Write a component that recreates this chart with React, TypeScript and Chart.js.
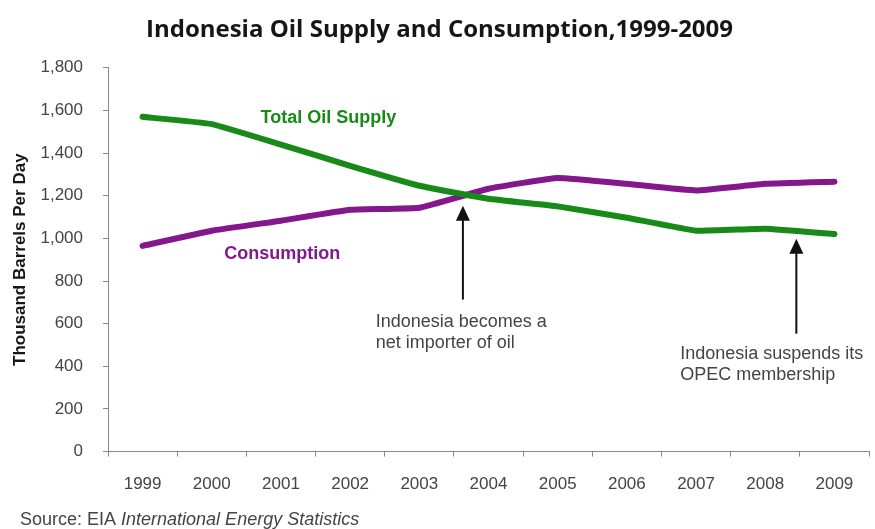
import React, { useEffect, useRef } from "react";
import { Chart, registerables } from "chart.js";

Chart.register(...registerables);

const years = ["1999", "2000", "2001", "2002", "2003", "2004", "2005", "2006", "2007", "2008", "2009"];
const totalOilSupply = [1570, 1536, 1440, 1340, 1247, 1186, 1150, 1097, 1036, 1045, 1020];
const consumption = [965, 1036, 1083, 1134, 1144, 1233, 1283, 1256, 1225, 1256, 1266];

const titleText = "Indonesia Oil Supply and Consumption,1999-2009";
const yAxisTitle = "Thousand Barrels Per Day";
const sourcePlain = "Source: EIA ";
const sourceItalic = "International Energy Statistics";

const GREEN = "#178a17";
const PURPLE = "#84178c";
const FONT = "'Liberation Sans', Arial, sans-serif";

// annotation placement in data coordinates (category index, value)
const seriesLabels = [
  { text: "Total Oil Supply", x: 2.685, y: 1566, color: GREEN },
  { text: "Consumption", x: 2.02, y: 928, color: PURPLE },
];
const arrows = [
  { x: 4.63, from: 713, to: 1153 },
  { x: 9.45, from: 553, to: 998 },
];
const notes = [
  { lines: ["Indonesia becomes a", "net importer of oil"], x: 3.37, y: 586 },
  { lines: ["Indonesia suspends its", "OPEC membership"], x: 7.77, y: 436 },
];

const annotationPlugin = {
  id: "annotations",
  afterDatasetsDraw(chart: any) {
    const ctx = chart.ctx;
    const xs = chart.scales.x;
    const ys = chart.scales.y;
    ctx.save();
    // series labels
    ctx.font = `bold 18px ${FONT}`;
    ctx.textAlign = "center";
    ctx.textBaseline = "middle";
    seriesLabels.forEach((l) => {
      ctx.fillStyle = l.color;
      ctx.fillText(l.text, xs.getPixelForValue(l.x), ys.getPixelForValue(l.y));
    });
    // arrows
    ctx.strokeStyle = "#111";
    ctx.fillStyle = "#111";
    ctx.lineWidth = 2;
    arrows.forEach((a) => {
      const px = xs.getPixelForValue(a.x);
      const y1 = ys.getPixelForValue(a.from);
      const y2 = ys.getPixelForValue(a.to);
      ctx.beginPath();
      ctx.moveTo(px, y1);
      ctx.lineTo(px, y2 + 12);
      ctx.stroke();
      ctx.beginPath();
      ctx.moveTo(px, y2);
      ctx.lineTo(px - 7, y2 + 15);
      ctx.lineTo(px + 7, y2 + 15);
      ctx.closePath();
      ctx.fill();
    });
    // notes
    ctx.font = `18px ${FONT}`;
    ctx.fillStyle = "#444";
    ctx.textAlign = "left";
    ctx.textBaseline = "alphabetic";
    notes.forEach((n) => {
      const px = xs.getPixelForValue(n.x);
      let py = ys.getPixelForValue(n.y);
      n.lines.forEach((line) => {
        ctx.fillText(line, px, py);
        py += 21;
      });
    });
    // source
    ctx.font = `18px ${FONT}`;
    ctx.fillStyle = "#444";
    const w = ctx.measureText(sourcePlain).width;
    ctx.fillText(sourcePlain, 20, 525);
    ctx.font = `italic 18px ${FONT}`;
    ctx.fillText(sourceItalic, 20 + w, 525);
    ctx.restore();
  },
};

export default function App() {
  const ref = useRef<HTMLCanvasElement | null>(null);
  useEffect(() => {
    if (!ref.current) return;
    const chart = new Chart(ref.current, {
      type: "line",
      data: {
        labels: years,
        datasets: [
          {
            label: "Total Oil Supply",
            data: totalOilSupply,
            borderColor: GREEN,
            backgroundColor: GREEN,
            borderWidth: 6,
            pointRadius: 0,
            tension: 0.1,
            borderCapStyle: "round",
            borderJoinStyle: "round",
          },
          {
            label: "Consumption",
            data: consumption,
            borderColor: PURPLE,
            backgroundColor: PURPLE,
            borderWidth: 6,
            pointRadius: 0,
            tension: 0.1,
            borderCapStyle: "round",
            borderJoinStyle: "round",
          },
        ],
      },
      options: {
        animation: false,
        responsive: true,
        maintainAspectRatio: false,
        layout: { padding: { left: 10, right: 6, top: 0, bottom: 16 } },
        plugins: {
          legend: { display: false },
          tooltip: { enabled: false },
          title: {
            display: true,
            text: titleText,
            color: "#161616",
            font: { family: "'Open Sans', sans-serif", size: 24, weight: "bold" },
            padding: { top: 16, bottom: 23 },
          },
        },
        scales: {
          x: {
            type: "category",
            offset: true,
            grid: {
              display: true,
              drawOnChartArea: false,
              drawTicks: true,
              tickLength: 5,
              color: "#888",
              offset: true,
            },
            border: { display: true, color: "#888", width: 1 },
            ticks: {
              color: "#444",
              font: { family: FONT, size: 17 },
              padding: 18,
              maxRotation: 0,
            },
          },
          y: {
            min: 0,
            max: 1800,
            afterFit: (scale: any) => {
              scale.width = 98;
            },
            grid: {
              display: true,
              drawOnChartArea: false,
              drawTicks: true,
              tickLength: 5,
              color: "#888",
            },
            border: { display: true, color: "#888", width: 1 },
            ticks: {
              stepSize: 200,
              color: "#444",
              padding: 20,
              font: { family: FONT, size: 17 },
              callback: (v: any) => Number(v).toLocaleString("en-US"),
            },
            title: {
              display: true,
              text: yAxisTitle,
              color: "#161616",
              font: { family: FONT, size: 17, weight: "bold" },
              padding: { top: 0, bottom: 8 },
            },
          },
        },
      },
      plugins: [annotationPlugin],
    });
    return () => chart.destroy();
  }, []);
  return (
    <div style={{ position: "fixed", left: 0, top: 0, width: 875, height: 529, background: "#fff" }}>
      <canvas ref={ref} />
    </div>
  );
}
